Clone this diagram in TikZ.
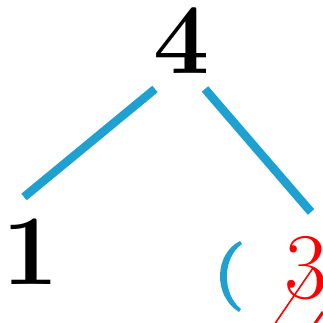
\documentclass[tikz,border=0pt]{standalone}
\usepackage{tikz}
\definecolor{edgeblue}{RGB}{30,160,208}
\tikzset{
  digit/.style={inner sep=0pt, font=\fontsize{100}{100}\selectfont\bfseries},
  edge/.style={draw=edgeblue, line width=8.5pt},
}
\begin{document}
\begin{tikzpicture}[x=1pt,y=-1pt]
\useasboundingbox (0,0) rectangle (322,323);
\node[digit, anchor=base] (four) at (181.5,74) {4};
\node[digit, anchor=base] (one) at (31,284) {1};
\node[digit, anchor=base west, text=red, font=\fontsize{94}{94}\selectfont] (three) at (284,298) {3};
\coordinate (l1) at (155,89);
\coordinate (l2) at (24,197);
\coordinate (r1) at (205,89);
\coordinate (r2) at (311,212);
\draw[edge] (l1) -- (l2);
\draw[edge] (r1) -- (r2);
\fill[edgeblue] (240,241) .. controls (214,254) and (213,296) .. (239,312)
  -- (241,309) .. controls (222,294) and (222,258) .. (242,244) -- cycle;
\coordinate (s1) at (274,325);
\coordinate (s2) at (313,268);
\draw[red, line width=1.6pt] (s1) -- (s2);
\coordinate (t1) at (314,325);
\coordinate (t2) at (323,312);
\draw[red, line width=3pt] (t1) -- (t2);
\end{tikzpicture}
\end{document}
